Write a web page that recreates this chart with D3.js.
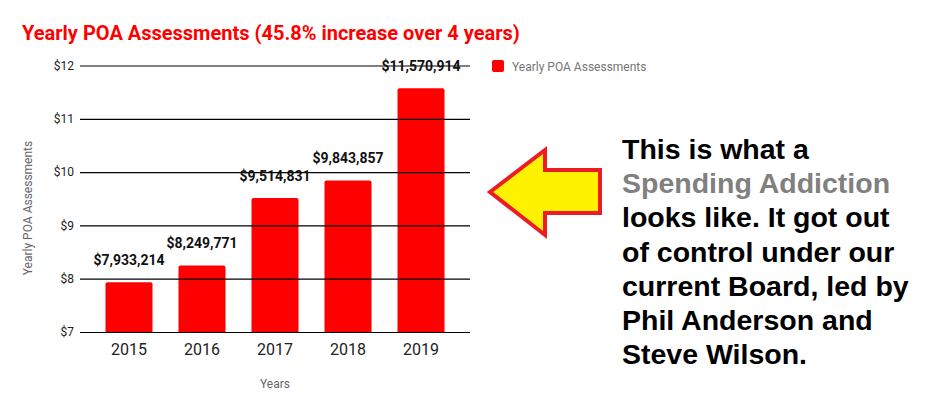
<!DOCTYPE html>
<html>
<head>
<meta charset="utf-8">
<title>Yearly POA Assessments</title>
<script src="https://cdn.jsdelivr.net/npm/d3@7"></script>
<style>
  html, body { margin: 0; padding: 0; background: #fff; }
  svg { display: block; }
  .tick text { font-family: Roboto, sans-serif; }
</style>
</head>
<body>
<div id="chart"></div>
<script>
// data
var years = ["2015", "2016", "2017", "2018", "2019"];
var assessments = [7933214, 8249771, 9514831, 9843857, 11570914];
var yTicks = [7, 8, 9, 10, 11, 12];
var noteLines = [
  [{t: "This is what a", c: "#000"}],
  [{t: "Spending Addiction", c: "#808080"}],
  [{t: "looks like. It got out", c: "#000"}],
  [{t: "of control under our", c: "#000"}],
  [{t: "current Board, led by", c: "#000"}],
  [{t: "Phil Anderson and", c: "#000"}],
  [{t: "Steve Wilson.", c: "#000"}]
];

var W = 942, H = 413;
var svg = d3.select("#chart").append("svg").attr("width", W).attr("height", H);

var x = d3.scaleBand().domain(years).range([80, 470]).paddingInner(0.356).paddingOuter(0.349);
var y = d3.scaleLinear().domain([7, 12]).range([332, 65.5]);

// title
svg.append("text")
  .attr("x", 22).attr("y", 40)
  .attr("font-family", "Roboto, sans-serif").attr("font-weight", "bold")
  .attr("font-size", 20).attr("fill", "#ff0000")
  .text("Yearly POA Assessments (45.8% increase over 4 years)");

// bars (rounded top corners)
function barPath(x0, w, top, bottom, r) {
  return "M" + x0 + "," + bottom +
    "V" + (top + r) + "Q" + x0 + "," + top + " " + (x0 + r) + "," + top +
    "H" + (x0 + w - r) + "Q" + (x0 + w) + "," + top + " " + (x0 + w) + "," + (top + r) +
    "V" + bottom + "Z";
}
svg.append("g").selectAll("path")
  .data(assessments)
  .enter().append("path")
  .attr("fill", "#ff0000")
  .attr("d", function(d, i) {
    return barPath(x(years[i]), x.bandwidth(), y(d / 1e6), y(7), 2);
  });

// y axis with gridlines
var yAxis = svg.append("g")
  .attr("transform", "translate(80,0)")
  .call(d3.axisLeft(y).tickValues(yTicks).tickSize(-390).tickPadding(6)
    .tickFormat(function(d) { return "$" + d; }));
yAxis.select(".domain").remove();
yAxis.selectAll(".tick line").attr("stroke", "#000").attr("stroke-width", 1.2);
yAxis.selectAll(".tick text").attr("font-size", 12).attr("fill", "#222");

// x axis
var xAxis = svg.append("g")
  .attr("transform", "translate(0,332)")
  .call(d3.axisBottom(x).tickSize(0).tickPadding(12));
xAxis.select(".domain").remove();
xAxis.selectAll(".tick text").attr("font-size", 16).attr("fill", "#222");

// value labels
svg.append("g").selectAll("text")
  .data(assessments)
  .enter().append("text")
  .attr("x", function(d, i) { return x(years[i]) + x.bandwidth() / 2; })
  .attr("y", function(d) { return y(d / 1e6) - 17; })
  .attr("text-anchor", "middle")
  .attr("font-family", "Roboto, sans-serif").attr("font-weight", "bold")
  .attr("font-size", 14).attr("fill", "#111")
  .text(function(d) { return "$" + d3.format(",")(d); });

// axis titles
svg.append("text")
  .attr("transform", "translate(32,208) rotate(-90)")
  .attr("text-anchor", "middle")
  .attr("font-family", "Roboto, sans-serif").attr("font-size", 12).attr("fill", "#666")
  .text("Yearly POA Assessments");
svg.append("text")
  .attr("x", 275).attr("y", 388)
  .attr("text-anchor", "middle")
  .attr("font-family", "Roboto, sans-serif").attr("font-size", 12).attr("fill", "#666")
  .text("Years");

// legend
svg.append("rect")
  .attr("x", 492).attr("y", 60).attr("width", 12).attr("height", 12).attr("rx", 2)
  .attr("fill", "#ff0000");
svg.append("text")
  .attr("x", 512).attr("y", 70.5)
  .attr("font-family", "Roboto, sans-serif").attr("font-size", 12).attr("fill", "#757575")
  .text("Yearly POA Assessments");

// arrow
var arrow = [[490, 192], [545, 150], [545, 170], [600, 170], [600, 213], [545, 213], [545, 235]];
svg.append("polygon")
  .attr("points", arrow.map(function(p) { return p.join(","); }).join(" "))
  .attr("fill", "#fff200").attr("stroke", "#ed1c24").attr("stroke-width", 4)
  .attr("stroke-linejoin", "miter");

// note text
var note = svg.append("text")
  .attr("font-family", "'Liberation Sans', Arial, sans-serif").attr("font-weight", "bold")
  .attr("font-size", 28.5);
noteLines.forEach(function(line, i) {
  line.forEach(function(seg, j) {
    note.append("tspan")
      .attr("x", j === 0 ? 622 : null)
      .attr("y", j === 0 ? 159 + i * 34.2 : null)
      .attr("fill", seg.c)
      .text(seg.t);
  });
});
</script>
</body>
</html>
